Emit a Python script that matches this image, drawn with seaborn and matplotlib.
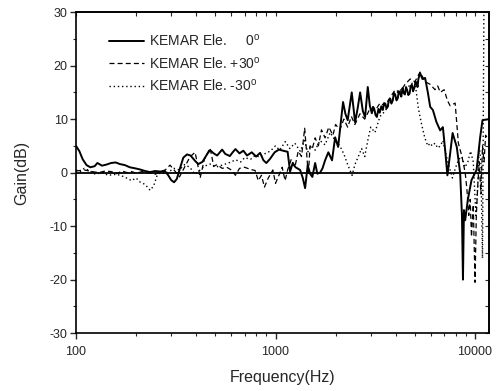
import numpy as np
import pandas as pd
import matplotlib
matplotlib.use('Agg')
import matplotlib.pyplot as plt
import matplotlib.ticker as mticker
import seaborn as sns

# KEMAR elevation gain curves
freq_0 = [100, 104, 108, 113, 118, 124, 128, 135, 142, 150,
          158, 166, 176, 186, 198, 209, 222, 235, 249, 264,
          279, 290, 300, 310, 320, 332, 345, 360, 375, 395,
          410, 430, 455, 470, 490, 510, 540, 560, 590, 610,
          630, 660, 690, 720, 760, 800, 837, 870, 900, 940,
          990, 1040, 1117, 1150, 1183, 1220, 1260, 1328, 1370, 1407,
          1450, 1490, 1530, 1580, 1620, 1673, 1720, 1772, 1840, 1920,
          1990, 2060, 2120, 2180, 2240, 2300, 2410, 2506, 2580, 2655,
          2740, 2812, 2900, 2970, 3040, 3080, 3120, 3170, 3220, 3280,
          3330, 3390, 3450, 3500, 3550, 3600, 3650, 3700, 3760, 3810,
          3870, 3920, 3980, 4040, 4100, 4150, 4213, 4270, 4330, 4390,
          4450, 4510, 4570, 4630, 4700, 4760, 4830, 4890, 4960, 5030,
          5100, 5150, 5200, 5308, 5450, 5620, 5800, 5960, 6150, 6400,
          6687, 6900, 7084, 7270, 7500, 7720, 8100, 8424, 8600, 8700,
          8800, 8925, 9200, 9600, 10180, 10610, 10900, 11750]
gain_0 = [5.0, 4.0, 2.5, 1.4, 1.0, 1.2, 1.8, 1.3, 1.5, 1.8,
          1.9, 1.6, 1.4, 1.0, 0.8, 0.6, 0.3, 0.1, 0.3, 0.2,
          0.3, -0.5, -1.4, -1.8, -1.2, 0.8, 2.8, 3.4, 3.2, 2.2,
          1.6, 2.0, 3.5, 4.2, 3.6, 3.2, 4.3, 3.5, 3.1, 3.8,
          4.4, 3.6, 4.1, 3.2, 3.8, 3.0, 3.7, 2.3, 1.8, 2.6,
          3.8, 4.3, 4.0, 3.9, 0.2, 1.8, 1.0, 0.5, -1.0, -2.9,
          1.4, -0.2, -0.8, 1.8, -0.2, 0.0, 0.8, 2.3, 3.8, 2.3,
          6.6, 4.8, 9.0, 13.2, 11.0, 9.8, 15.0, 9.4, 12.0, 15.0,
          11.5, 10.4, 16.0, 12.5, 11.1, 12.3, 12.0, 10.8, 10.4, 11.9,
          11.2, 12.4, 11.7, 13.0, 12.9, 12.0, 12.3, 13.6, 13.8, 12.9,
          13.5, 14.9, 14.6, 13.5, 13.9, 15.2, 14.8, 14.2, 15.8, 14.9,
          14.6, 16.0, 15.4, 14.5, 14.8, 16.2, 16.4, 15.2, 15.8, 17.0,
          16.8, 16.0, 17.5, 18.6, 17.5, 17.7, 15.0, 12.3, 11.7, 9.5,
          7.9, 8.5, 4.2, -0.5, 3.5, 7.4, 4.8, -0.1, -8.0, -20.0,
          -7.0, -8.9, -5.1, -1.4, 0.5, 6.6, 9.8, 10.0]

freq_p30 = [100, 110, 120, 130, 140, 150, 160, 170, 180, 190,
            200, 215, 230, 250, 265, 280, 296, 310, 330, 350,
            372, 395, 410, 419, 440, 470, 490, 510, 540, 570,
            600, 630, 660, 700, 750, 790, 820, 850, 880, 920,
            970, 1000, 1040, 1080, 1117, 1150, 1200, 1250, 1300, 1350,
            1400, 1430, 1460, 1490, 1530, 1580, 1640, 1700, 1772, 1850,
            1940, 2000, 2100, 2200, 2300, 2400, 2500, 2650, 2800, 2980,
            3150, 3340, 3540, 3750, 3980, 4200, 4460, 4730, 5000, 5300,
            5620, 5960, 6300, 6500, 6700, 7000, 7270, 7500, 7950, 8250,
            8600, 8925, 9100, 9300, 9455, 9600, 9800, 10000, 10150, 10300,
            10500, 10700, 10900, 11100, 11300, 11750]
gain_p30 = [0.3, 0.5, 0.2, 0.0, 0.3, 0.2, -0.2, 0.3, 0.0, 0.2,
            -0.1, 0.2, 0.0, -0.3, 0.2, 0.5, 1.4, 0.5, -0.8, 1.0,
            2.9, 3.8, 1.0, -1.0, 2.5, 4.6, 1.2, 1.5, 0.8, 1.0,
            0.5, -0.5, 0.8, 1.0, 0.6, 0.4, -1.5, -0.5, -2.7, -1.0,
            0.5, -2.0, -0.5, 1.0, -1.5, 0.5, 2.5, 1.0, 4.0, 3.0,
            8.3, 4.0, -0.5, 5.0, 4.5, 6.5, 5.0, 8.0, 6.5, 8.5,
            7.0, 9.0, 8.0, 10.0, 8.5, 10.5, 9.0, 11.0, 10.0, 12.0,
            11.5, 13.0, 12.5, 14.0, 15.5, 15.0, 16.5, 17.5, 17.0, 18.8,
            17.0, 16.5, 15.5, 16.2, 15.0, 15.5, 13.5, 12.5, 13.0, 5.5,
            3.0, 0.0, -3.0, -8.0, -5.0, -12.0, -6.0, -20.5, -8.0, -3.0,
            2.0, -4.0, 5.0, 2.0, 7.0, 6.0]

freq_m30 = [100, 105, 110, 118, 125, 135, 145, 160, 175, 190,
            200, 210, 222, 235, 245, 255, 265, 280, 296, 310,
            330, 350, 372, 395, 419, 440, 470, 500, 530, 560,
            600, 630, 670, 700, 750, 790, 840, 890, 940, 1000,
            1050, 1120, 1180, 1250, 1330, 1400, 1450, 1500, 1580, 1670,
            1770, 1880, 1990, 2100, 2200, 2300, 2420, 2500, 2600, 2700,
            2800, 2900, 3000, 3150, 3340, 3540, 3750, 3980, 4200, 4460,
            4730, 5000, 5200, 5400, 5600, 5800, 5960, 6100, 6300, 6500,
            6700, 6900, 7100, 7300, 7500, 7700, 8000, 8300, 8600, 8900,
            9200, 9500, 9800, 10100, 10300, 10500, 10700, 10900, 11000, 11100,
            11750]
gain_m30 = [0.5, 0.2, 0.8, 0.3, -0.3, 0.0, -0.5, -0.3, -0.8, -1.5,
            -1.0, -1.8, -2.2, -3.3, -2.5, -0.5, 0.0, -0.2, 0.3, 0.8,
            0.5, 1.5, 1.0, -0.3, 0.5, 1.2, 1.6, 1.0, 1.3, 1.6,
            2.0, 2.4, 2.0, 2.8, 2.5, 3.2, 2.9, 3.6, 4.0, 5.0,
            4.2, 5.8, 4.5, 5.5, 4.0, 6.0, 3.8, 5.0, 4.2, 6.0,
            5.2, 7.5, 6.0, 5.0, 3.5, 1.5, -0.5, 1.5, 3.0, 4.5,
            3.0, 6.0, 8.5, 7.5, 10.5, 11.5, 13.0, 14.5, 15.5, 15.0,
            16.5, 17.0, 12.0, 9.0, 6.5, 5.0, 5.5, 5.0, 5.5, 4.6,
            5.0, 6.0, 4.0, 2.0, 0.5, -1.0, 1.0, 2.5, 3.0, 1.0,
            2.0, 4.0, 2.0, -8.0, -3.0, 5.0, 2.0, -16.0, 10.0, 35.0,
            35.0]

labels = ['KEMAR Ele.     0$^{\\rm o}$',
          'KEMAR Ele. +30$^{\\rm o}$',
          'KEMAR Ele. -30$^{\\rm o}$']

sns.set_style('ticks')
plt.rcParams['font.family'] = ['Liberation Sans', 'DejaVu Sans']
plt.rcParams['mathtext.fontset'] = 'custom'
plt.rcParams['mathtext.rm'] = 'Liberation Sans'
plt.rcParams['axes.unicode_minus'] = False

fig = plt.figure(figsize=(5, 3.91), dpi=100)
ax = fig.add_axes([0.152, 0.148, 0.826, 0.821])

sns.lineplot(x=freq_0, y=gain_0, ax=ax, color='black', lw=1.4,
             label=labels[0], estimator=None)
sns.lineplot(x=freq_p30, y=gain_p30, ax=ax, color='black', lw=0.9,
             linestyle=(0, (4, 2.5)), label=labels[1], estimator=None)
sns.lineplot(x=freq_m30, y=gain_m30, ax=ax, color='black', lw=1.0,
             linestyle=(0, (1, 2)), label=labels[2], estimator=None)
ax.axhline(0, color='black', lw=1.3)

ax.set_xscale('log')
ax.set_xlim(100, 11750)
ax.set_ylim(-30, 30)
ax.yaxis.set_major_locator(mticker.MultipleLocator(10))
ax.yaxis.set_minor_locator(mticker.MultipleLocator(5))
ax.xaxis.set_major_formatter(mticker.FuncFormatter(lambda v, p: f'{v:g}'))
ax.xaxis.set_minor_formatter(mticker.NullFormatter())
ax.tick_params(which='major', direction='out', length=4, width=1, labelsize=9)
ax.tick_params(axis='x', which='major', pad=5)
ax.tick_params(axis='y', which='major', pad=2)
ax.tick_params(which='minor', direction='out', length=2.5, width=0.8)

top = ax.secondary_xaxis('top')
top.tick_params(which='both', direction='in', length=3, width=0.8, labeltop=False)
top.xaxis.set_minor_formatter(mticker.NullFormatter())
right = ax.secondary_yaxis('right')
right.yaxis.set_major_locator(mticker.MultipleLocator(5))
right.tick_params(which='both', direction='in', length=3, width=0.8, labelright=False)

for sp in list(ax.spines.values()) + [top.spines['top'], right.spines['right']]:
    sp.set_linewidth(1.2)
    sp.set_color('black')

ax.set_xlabel('Frequency(Hz)', fontsize=11.5, labelpad=9)
ax.set_ylabel('Gain(dB)', fontsize=11.5, labelpad=15)

ax.legend(loc='upper left', bbox_to_anchor=(0.08, 0.935), frameon=False,
          fontsize=10, handlelength=2.5, handletextpad=0.35,
          labelspacing=0.45, borderpad=0, borderaxespad=0)

fig.savefig('out.png', dpi=100)
